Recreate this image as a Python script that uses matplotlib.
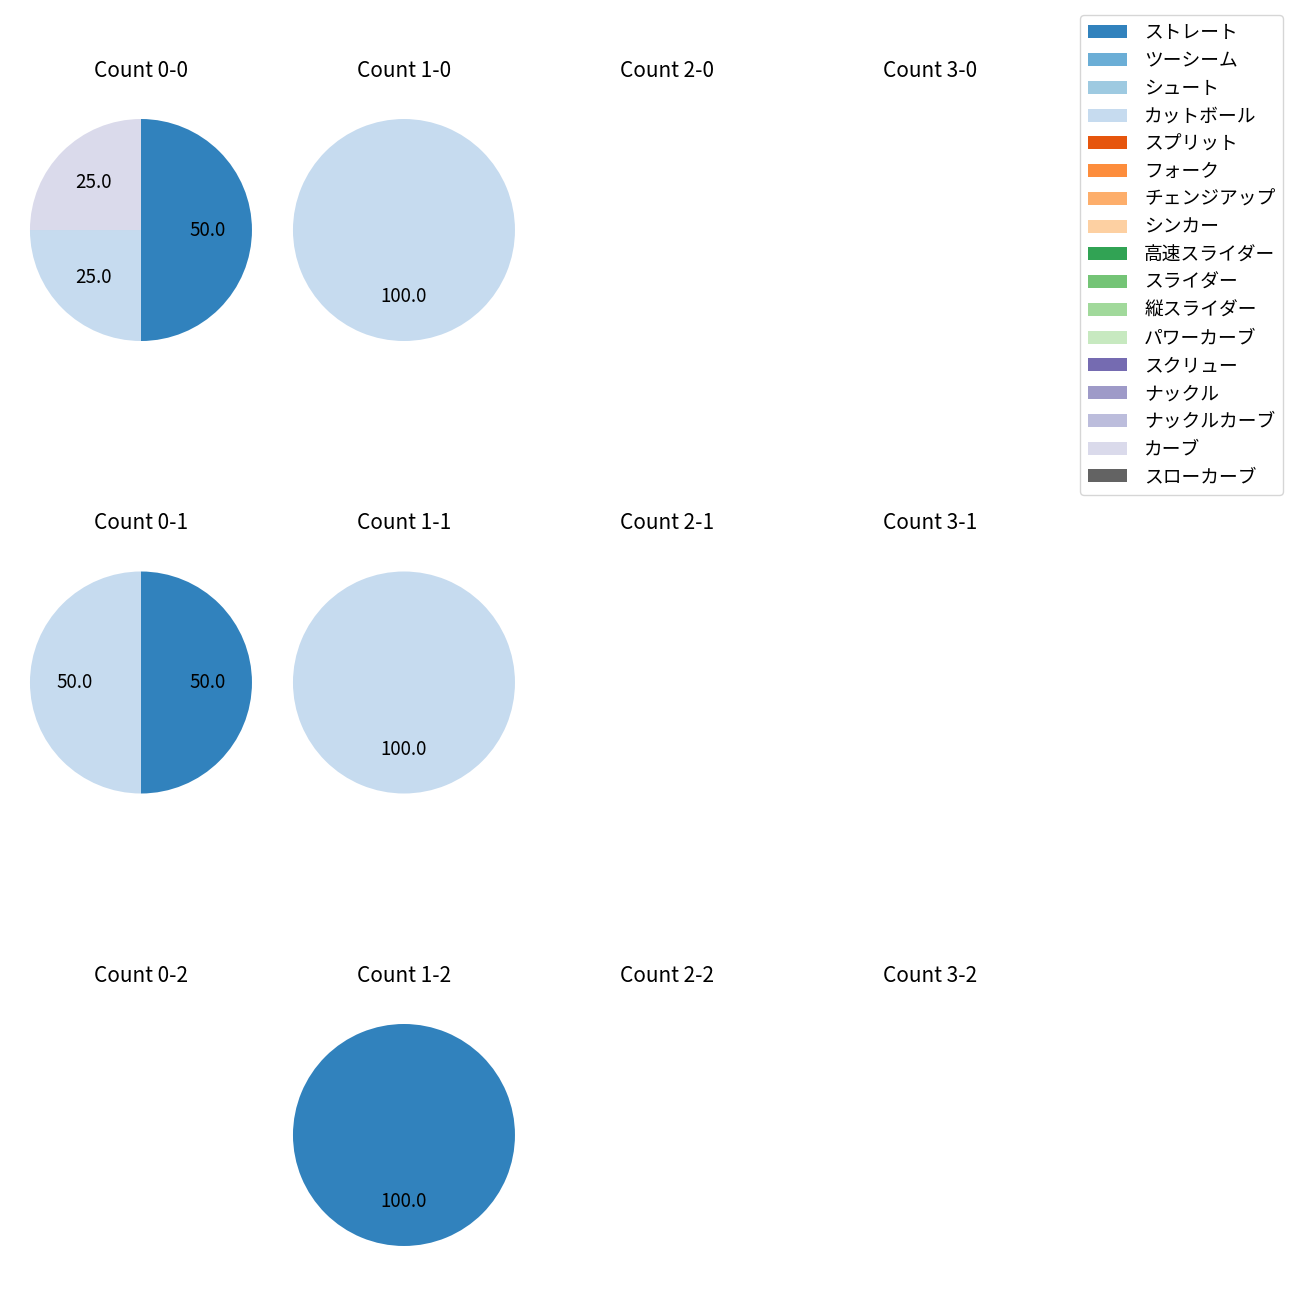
from matplotlib import pyplot as plt
from matplotlib.patches import Patch

plt.rcParams['font.family'] = ['Noto Sans CJK JP', 'DejaVu Sans']

# pitch types and their colours (tab20c order)
pitch_names = ['ストレート', 'ツーシーム', 'シュート', 'カットボール', 'スプリット', 'フォーク',
               'チェンジアップ', 'シンカー', '高速スライダー', 'スライダー', '縦スライダー',
               'パワーカーブ', 'スクリュー', 'ナックル', 'ナックルカーブ', 'カーブ', 'スローカーブ']
pitch_colors = ['#3182bd', '#6baed6', '#9ecae1', '#c6dbef', '#e6550d', '#fd8d3c',
                '#fdae6b', '#fdd0a2', '#31a354', '#74c476', '#a1d99b', '#c7e9c0',
                '#756bb1', '#9e9ac8', '#bcbddc', '#dadaeb', '#636363']

balls = [0, 1, 2, 3]
strikes = [0, 1, 2]

# pitch counts per ball-strike count (only non-empty ones)
counts = {
    (0, 0): {'ストレート': 2, 'カットボール': 1, 'カーブ': 1},
    (1, 0): {'カットボール': 1},
    (0, 1): {'ストレート': 1, 'カットボール': 1},
    (1, 1): {'カットボール': 1},
    (1, 2): {'ストレート': 1},
}

fig, axes = plt.subplots(3, 4, figsize=(13, 13))
plt.subplots_adjust(left=0.0017, right=0.8221, top=0.9298, bottom=0.0202,
                    wspace=-0.0523, hspace=0.6306)

for s in strikes:
    for b in balls:
        ax = axes[s][b]
        ax.set_title('Count {}-{}'.format(b, s), fontsize=15, pad=10.5)
        data = counts.get((b, s))
        if data is None:
            ax.axis('off')
            continue
        names = [n for n in pitch_names if n in data]
        vals = [data[n] for n in names]
        cols = [pitch_colors[pitch_names.index(n)] for n in names]
        ax.pie(vals, colors=cols, autopct='%.1f', startangle=90, counterclock=False,
               textprops={'fontsize': 13.5})

handles = [Patch(facecolor=c) for c in pitch_colors]
fig.legend(handles, pitch_names, loc='upper right', bbox_to_anchor=(0.9869, 0.9885),
           borderaxespad=0, fontsize=13.5, handlelength=2.1, handletextpad=0.9,
           labelspacing=0.36)

plt.savefig('out.png', dpi=100)
plt.close()
